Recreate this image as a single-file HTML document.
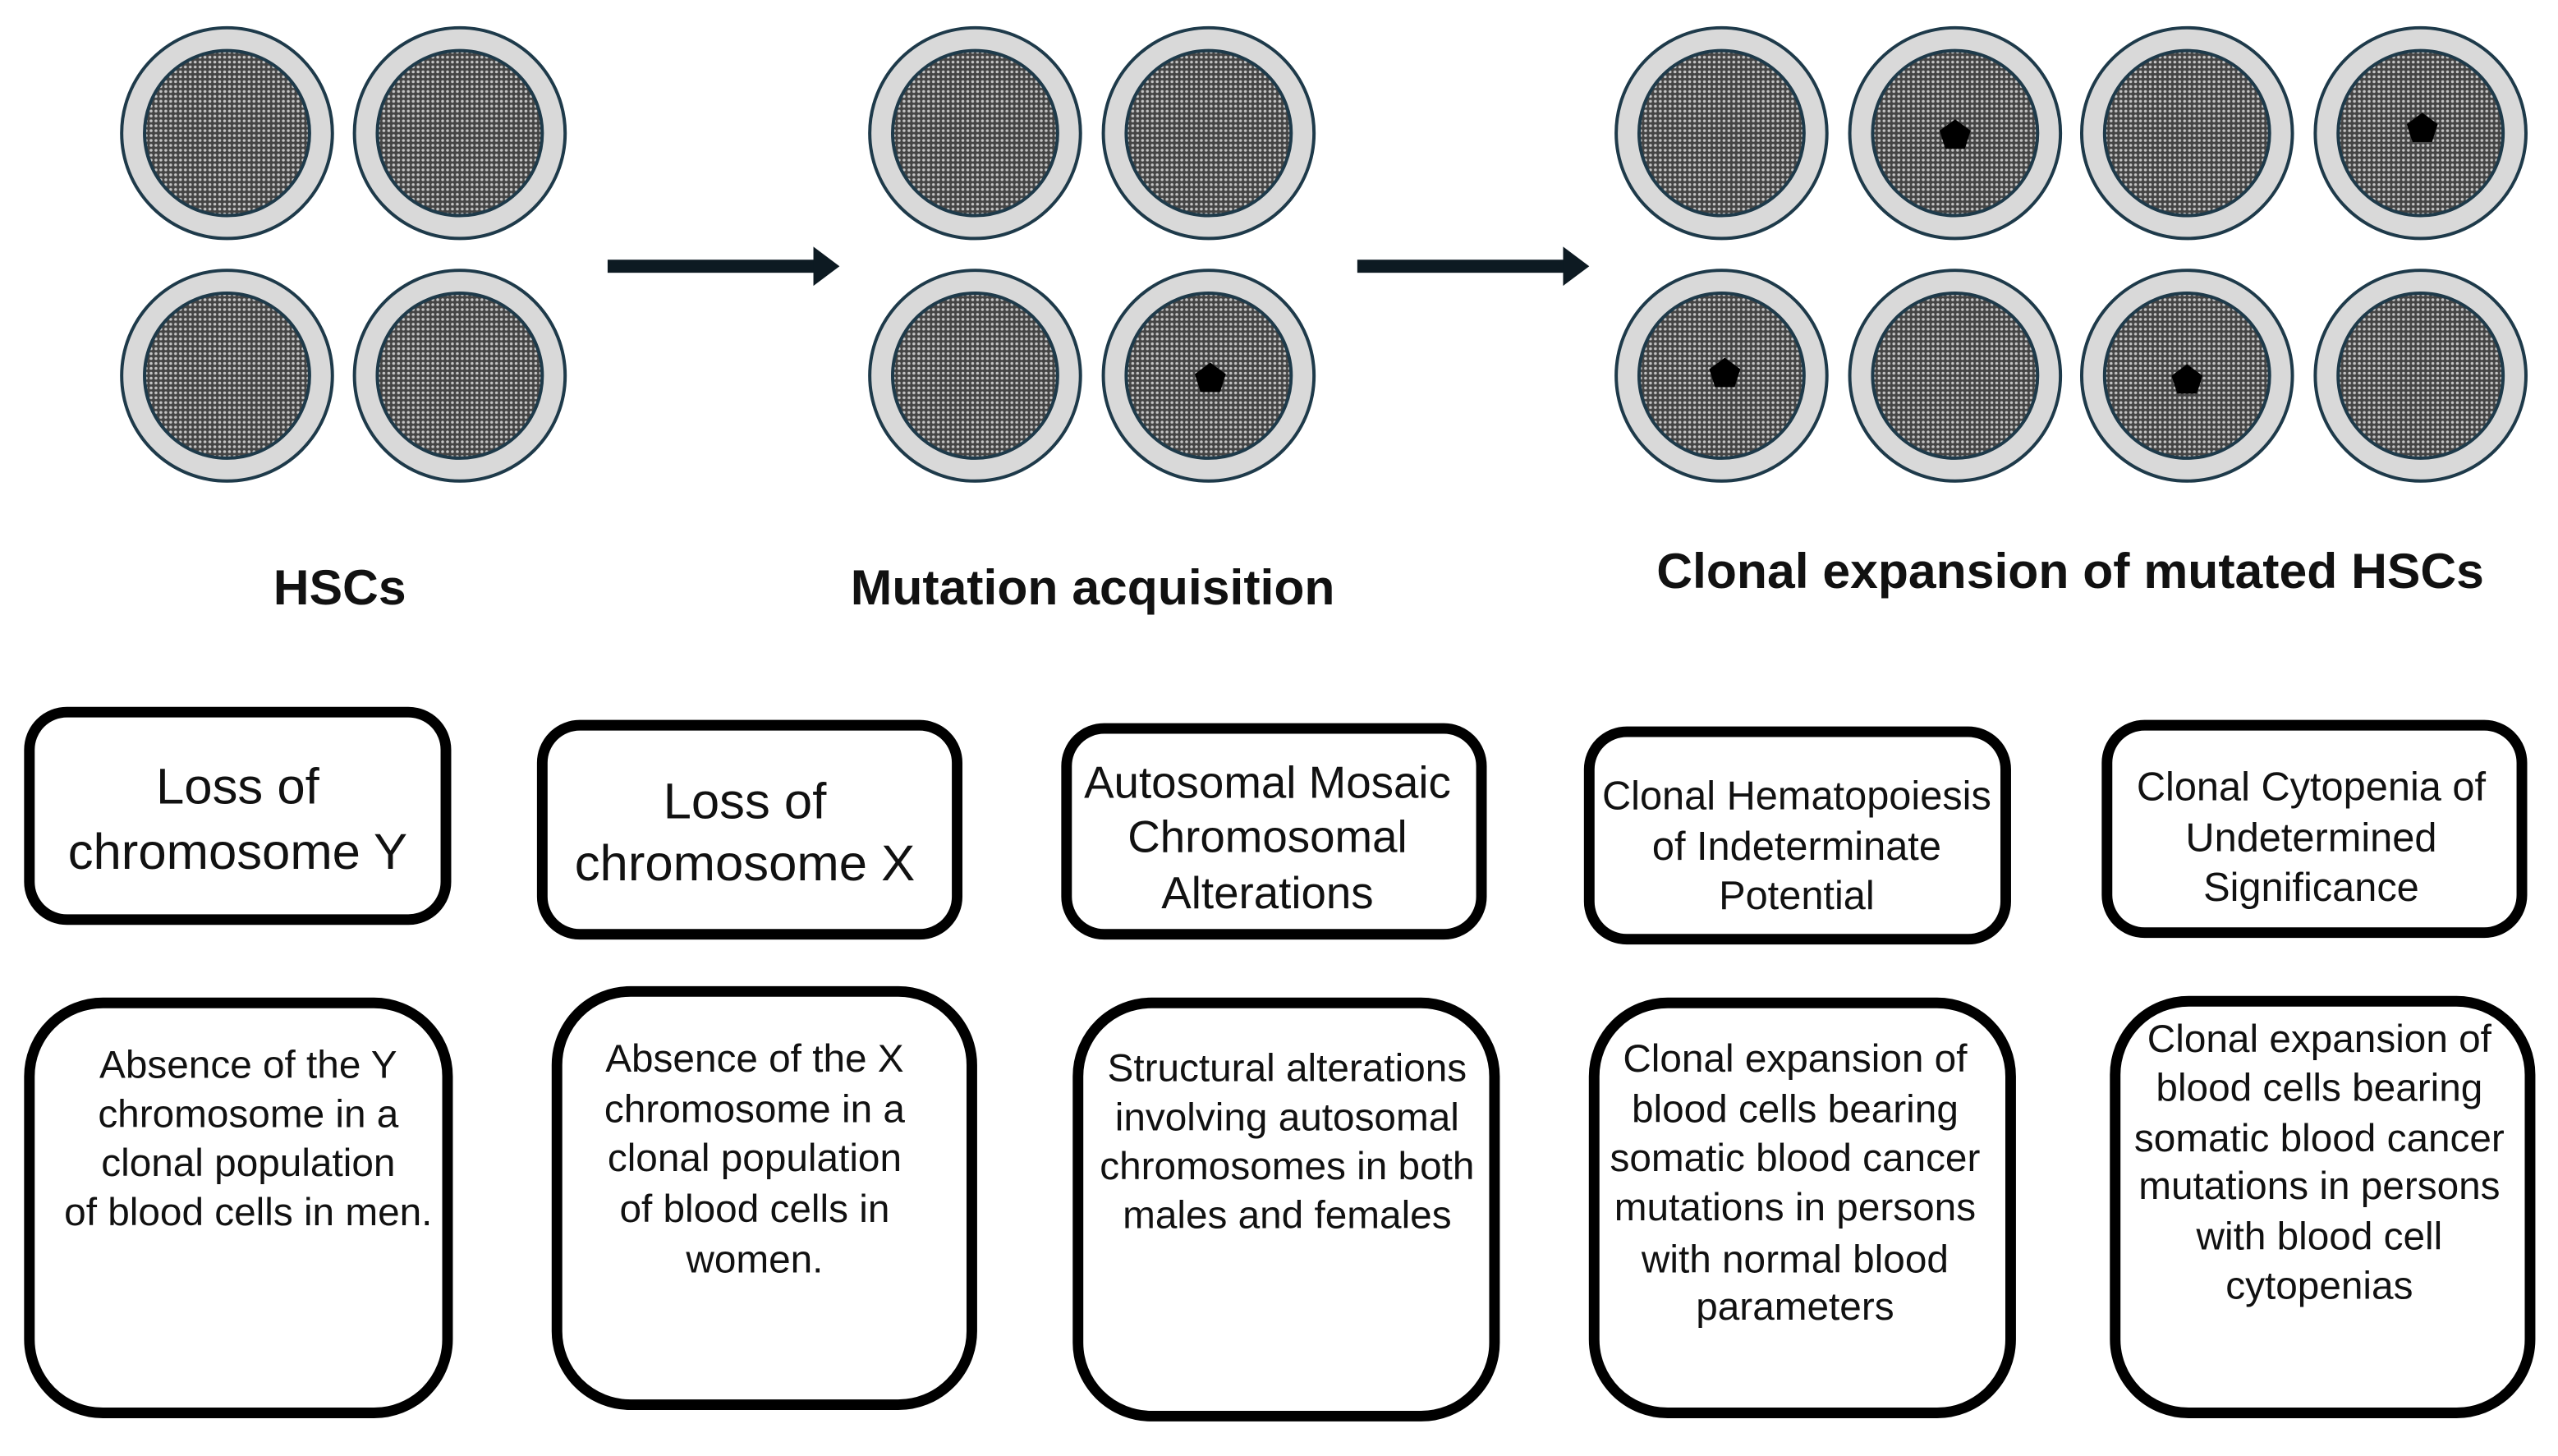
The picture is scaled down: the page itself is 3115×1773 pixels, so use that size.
<!DOCTYPE html>
<html><head><meta charset="utf-8"><style>
html,body{margin:0;padding:0;background:#fff;width:3115px;height:1773px;overflow:hidden}
svg{display:block}
text{font-family:"Liberation Sans",sans-serif;fill:#111}
</style></head><body>
<svg width="3115" height="1773" viewBox="0 0 3115 1773" xmlns="http://www.w3.org/2000/svg">
<defs>
<pattern id="dots" width="6" height="6" patternUnits="userSpaceOnUse">
<rect width="6" height="6" fill="#444"/>
<circle cx="3" cy="3" r="1.8" fill="#c4c4c4"/>
</pattern>
<g id="cell">
<circle r="129" fill="#d9d9d9" stroke="#1e3a4a" stroke-width="4"/>
<circle r="101" fill="url(#dots)" stroke="#1e3a4a" stroke-width="4"/>
</g>
<polygon id="pent" points="0,-20 19,-6 12,16 -12,16 -19,-6" fill="#000"/>
</defs>
<g transform="scale(0.9945)">
<use href="#cell" x="278" y="163"/><use href="#cell" x="563" y="163"/>
<use href="#cell" x="278" y="460"/><use href="#cell" x="563" y="460"/>
<use href="#cell" x="1194" y="163"/><use href="#cell" x="1480" y="163"/>
<use href="#cell" x="1194" y="460"/><use href="#cell" x="1480" y="460"/>
<use href="#cell" x="2108" y="163"/><use href="#cell" x="2394" y="163"/><use href="#cell" x="2678" y="163"/><use href="#cell" x="2964" y="163"/>
<use href="#cell" x="2108" y="460"/><use href="#cell" x="2394" y="460"/><use href="#cell" x="2678" y="460"/><use href="#cell" x="2964" y="460"/>
<use href="#pent" x="1482" y="464"/><use href="#pent" x="2394" y="166"/><use href="#pent" x="2966" y="158"/>
<use href="#pent" x="2112" y="458"/><use href="#pent" x="2678" y="466"/>
<g fill="#0d1a22">
<rect x="744" y="318" width="256" height="16"/><polygon points="996,302 1028,326 996,350"/>
<rect x="1662" y="318" width="256" height="16"/><polygon points="1914,302 1946,326 1914,350"/>
</g>
<g font-weight="bold" font-size="61" text-anchor="middle">
<text x="416" y="740">HSCs</text>
<text x="1338" y="740">Mutation acquisition</text>
<text x="2535" y="720">Clonal expansion of mutated HSCs</text>
</g>
<g fill="#fff" stroke="#000" stroke-width="13">
<rect x="36" y="872" width="510" height="254" rx="46"/>
<rect x="664" y="888" width="508" height="256" rx="46"/>
<rect x="1306" y="892" width="508" height="252" rx="46"/>
<rect x="1946" y="896" width="510" height="254" rx="46"/>
<rect x="2580" y="888" width="508" height="254" rx="46"/>
<rect x="36" y="1228" width="512" height="502" rx="90"/>
<rect x="682" y="1214" width="508" height="506" rx="90"/>
<rect x="1320" y="1228" width="510" height="506" rx="90"/>
<rect x="1952" y="1228" width="510" height="502" rx="90"/>
<rect x="2590" y="1226" width="508" height="504" rx="90"/>
</g>
<g text-anchor="middle">
<g font-size="62">
<text x="291" y="984">Loss of</text><text x="291" y="1064">chromosome Y</text>
<text x="912" y="1002">Loss of</text><text x="912" y="1078">chromosome X</text>
</g>
<g font-size="55">
<text x="1552" y="977">Autosomal Mosaic</text><text x="1552" y="1043">Chromosomal</text><text x="1552" y="1112">Alterations</text>
</g>
<g font-size="49">
<text x="2200" y="991">Clonal Hematopoiesis</text><text x="2200" y="1053">of Indeterminate</text><text x="2200" y="1113">Potential</text>
<text x="2830" y="980">Clonal Cytopenia of</text><text x="2830" y="1042">Undetermined</text><text x="2830" y="1103">Significance</text>
</g>
<g font-size="48">
<text x="304" y="1320">Absence of the Y</text><text x="304" y="1380">chromosome in a</text><text x="304" y="1440">clonal population</text><text x="304" y="1500">of blood cells in men.</text>
<text x="924" y="1312">Absence of the X</text><text x="924" y="1374">chromosome in a</text><text x="924" y="1434">clonal population</text><text x="924" y="1496">of blood cells in</text><text x="924" y="1558">women.</text>
<text x="1576" y="1324">Structural alterations</text><text x="1576" y="1384">involving autosomal</text><text x="1576" y="1444">chromosomes in both</text><text x="1576" y="1504">males and females</text>
<text x="2198" y="1312">Clonal expansion of</text><text x="2198" y="1374">blood cells bearing</text><text x="2198" y="1434">somatic blood cancer</text><text x="2198" y="1494">mutations in persons</text><text x="2198" y="1558">with normal blood</text><text x="2198" y="1616">parameters</text>
<text x="2840" y="1288">Clonal expansion of</text><text x="2840" y="1348">blood cells bearing</text><text x="2840" y="1410">somatic blood cancer</text><text x="2840" y="1468">mutations in persons</text><text x="2840" y="1530">with blood cell</text><text x="2840" y="1590">cytopenias</text>
</g>
</g>
</g>
</svg>
</body></html>
